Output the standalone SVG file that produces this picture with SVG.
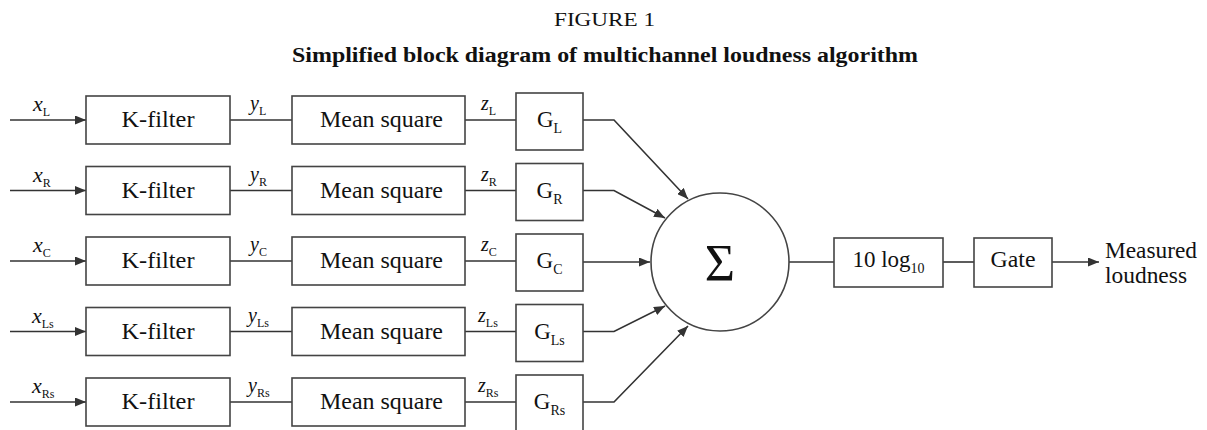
<svg xmlns="http://www.w3.org/2000/svg" width="1207" height="430" viewBox="0 0 1207 430" font-family="'Liberation Serif', 'Times New Roman', serif">
<defs>
<marker id="arr" markerUnits="userSpaceOnUse" markerWidth="11" markerHeight="9" refX="11" refY="4.5" orient="auto">
<path d="M0,0 L11,4.5 L0,9 z" fill="#333"/>
</marker>
<style>
text, tspan{font-family:'Liberation Serif','Times New Roman',serif;fill:#111;}
.box{fill:#fff;stroke:#444;stroke-width:1.6;}
.ln{fill:none;stroke:#333;stroke-width:1.6;}
.lbl{font-size:23px;}
.it{font-style:italic;font-size:20px;}
.itx{font-style:italic;font-size:22px;}
.sub{font-size:12px;font-style:normal;}
.gsub{font-size:14px;}
</style>
</defs>
<rect width="1207" height="430" fill="#fff"/>
<text x="604.5" y="26" font-size="18" text-anchor="middle" textLength="101" lengthAdjust="spacingAndGlyphs">FIGURE 1</text>
<text x="605" y="62" font-size="20" font-weight="bold" text-anchor="middle" textLength="626" lengthAdjust="spacingAndGlyphs">Simplified block diagram of multichannel loudness algorithm</text>

<g id="connectors">
<line class="ln" x1="10" y1="120" x2="86" y2="120" marker-end="url(#arr)"/>
<line class="ln" x1="10" y1="190.5" x2="86" y2="190.5" marker-end="url(#arr)"/>
<line class="ln" x1="10" y1="261" x2="86" y2="261" marker-end="url(#arr)"/>
<line class="ln" x1="10" y1="331.5" x2="86" y2="331.5" marker-end="url(#arr)"/>
<line class="ln" x1="10" y1="402" x2="86" y2="402" marker-end="url(#arr)"/>
<line class="ln" x1="230" y1="120" x2="292" y2="120"/>
<line class="ln" x1="230" y1="190.5" x2="292" y2="190.5"/>
<line class="ln" x1="230" y1="261" x2="292" y2="261"/>
<line class="ln" x1="230" y1="331.5" x2="292" y2="331.5"/>
<line class="ln" x1="230" y1="402" x2="292" y2="402"/>
<line class="ln" x1="465" y1="120" x2="516" y2="120"/>
<line class="ln" x1="465" y1="190.5" x2="516" y2="190.5"/>
<line class="ln" x1="465" y1="261" x2="516" y2="261"/>
<line class="ln" x1="465" y1="331.5" x2="516" y2="331.5"/>
<line class="ln" x1="465" y1="402" x2="516" y2="402"/>
<polyline class="ln" points="583,120 614,120 688,199" marker-end="url(#arr)"/>
<polyline class="ln" points="583,190.5 614,190.5 665,218" marker-end="url(#arr)"/>
<polyline class="ln" points="583,262 650,262" marker-end="url(#arr)"/>
<polyline class="ln" points="583,331.5 614,331.5 665,306" marker-end="url(#arr)"/>
<polyline class="ln" points="583,402 614,402 688,326" marker-end="url(#arr)"/>
<line class="ln" x1="789" y1="262" x2="834" y2="262"/>
<line class="ln" x1="943" y1="262" x2="974" y2="262"/>
<line class="ln" x1="1052" y1="262" x2="1099" y2="262" marker-end="url(#arr)"/>
<text class="itx" x="33" y="111">x<tspan class="sub" dy="5">L</tspan></text>
<text class="itx" x="33" y="181.5">x<tspan class="sub" dy="5">R</tspan></text>
<text class="itx" x="33" y="252">x<tspan class="sub" dy="5">C</tspan></text>
<text class="itx" x="32" y="322.5">x<tspan class="sub" dy="5">Ls</tspan></text>
<text class="itx" x="32" y="393">x<tspan class="sub" dy="5">Rs</tspan></text>
<text class="it" x="250" y="110">y<tspan class="sub" dy="5">L</tspan></text>
<text class="it" x="250" y="180.5">y<tspan class="sub" dy="5">R</tspan></text>
<text class="it" x="250" y="251">y<tspan class="sub" dy="5">C</tspan></text>
<text class="it" x="248" y="321.5">y<tspan class="sub" dy="5">Ls</tspan></text>
<text class="it" x="248" y="392">y<tspan class="sub" dy="5">Rs</tspan></text>
<text class="it" x="481" y="110">z<tspan class="sub" dy="5">L</tspan></text>
<text class="it" x="481" y="180.5">z<tspan class="sub" dy="5">R</tspan></text>
<text class="it" x="481" y="251">z<tspan class="sub" dy="5">C</tspan></text>
<text class="it" x="478" y="321.5">z<tspan class="sub" dy="5">Ls</tspan></text>
<text class="it" x="478" y="392">z<tspan class="sub" dy="5">Rs</tspan></text>
</g>

<g id="kfilter-L"><rect class="box" x="86" y="96" width="144" height="48"/><text class="lbl" x="158" y="127" text-anchor="middle" textLength="73" lengthAdjust="spacingAndGlyphs">K-filter</text></g>
<g id="kfilter-R"><rect class="box" x="86" y="166.5" width="144" height="48"/><text class="lbl" x="158" y="197.5" text-anchor="middle" textLength="73" lengthAdjust="spacingAndGlyphs">K-filter</text></g>
<g id="kfilter-C"><rect class="box" x="86" y="237" width="144" height="48"/><text class="lbl" x="158" y="268" text-anchor="middle" textLength="73" lengthAdjust="spacingAndGlyphs">K-filter</text></g>
<g id="kfilter-Ls"><rect class="box" x="86" y="307.5" width="144" height="48"/><text class="lbl" x="158" y="338.5" text-anchor="middle" textLength="73" lengthAdjust="spacingAndGlyphs">K-filter</text></g>
<g id="kfilter-Rs"><rect class="box" x="86" y="378" width="144" height="48"/><text class="lbl" x="158" y="409" text-anchor="middle" textLength="73" lengthAdjust="spacingAndGlyphs">K-filter</text></g>

<g id="ms-L"><rect class="box" x="292" y="96" width="173" height="48"/><text class="lbl" x="381.5" y="127" text-anchor="middle" textLength="123" lengthAdjust="spacingAndGlyphs">Mean square</text></g>
<g id="ms-R"><rect class="box" x="292" y="166.5" width="173" height="48"/><text class="lbl" x="381.5" y="197.5" text-anchor="middle" textLength="123" lengthAdjust="spacingAndGlyphs">Mean square</text></g>
<g id="ms-C"><rect class="box" x="292" y="237" width="173" height="48"/><text class="lbl" x="381.5" y="268" text-anchor="middle" textLength="123" lengthAdjust="spacingAndGlyphs">Mean square</text></g>
<g id="ms-Ls"><rect class="box" x="292" y="307.5" width="173" height="48"/><text class="lbl" x="381.5" y="338.5" text-anchor="middle" textLength="123" lengthAdjust="spacingAndGlyphs">Mean square</text></g>
<g id="ms-Rs"><rect class="box" x="292" y="378" width="173" height="48"/><text class="lbl" x="381.5" y="409" text-anchor="middle" textLength="123" lengthAdjust="spacingAndGlyphs">Mean square</text></g>

<g id="g-L"><rect class="box" x="516" y="93" width="67" height="57"/><text class="lbl" x="549.5" y="127" text-anchor="middle">G<tspan class="gsub" dy="6">L</tspan></text></g>
<g id="g-R"><rect class="box" x="516" y="163.5" width="67" height="57"/><text class="lbl" x="549.5" y="197.5" text-anchor="middle">G<tspan class="gsub" dy="6">R</tspan></text></g>
<g id="g-C"><rect class="box" x="516" y="234" width="67" height="57"/><text class="lbl" x="549.5" y="268" text-anchor="middle">G<tspan class="gsub" dy="6">C</tspan></text></g>
<g id="g-Ls"><rect class="box" x="516" y="304.5" width="67" height="57"/><text class="lbl" x="549.5" y="338.5" text-anchor="middle">G<tspan class="gsub" dy="6">Ls</tspan></text></g>
<g id="g-Rs"><rect class="box" x="516" y="375" width="67" height="57"/><text class="lbl" x="549.5" y="409" text-anchor="middle">G<tspan class="gsub" dy="6">Rs</tspan></text></g>

<g id="sum"><circle class="box" cx="720" cy="262" r="69"/><text x="720" y="281" font-size="52" text-anchor="middle">Σ</text></g>
<g id="log"><rect class="box" x="834" y="238" width="109" height="49"/><text class="lbl" x="888.5" y="267" text-anchor="middle">10 log<tspan class="gsub" dy="6">10</tspan></text></g>
<g id="gate"><rect class="box" x="974" y="238" width="78" height="49"/><text class="lbl" x="1013" y="267" text-anchor="middle" textLength="45" lengthAdjust="spacingAndGlyphs">Gate</text></g>
<g id="output"><text class="lbl" x="1105" y="258" textLength="92" lengthAdjust="spacingAndGlyphs">Measured</text><text class="lbl" x="1105" y="283" textLength="82" lengthAdjust="spacingAndGlyphs">loudness</text></g>
</svg>
